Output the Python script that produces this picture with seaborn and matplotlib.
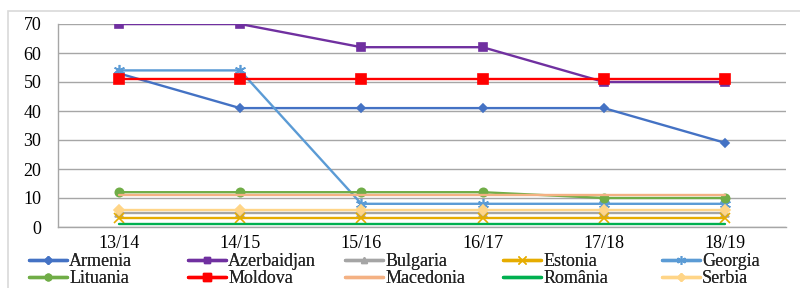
import matplotlib
matplotlib.use("Agg")
import matplotlib.pyplot as plt
import seaborn as sns
import pandas as pd
from matplotlib.patches import Rectangle
from matplotlib.lines import Line2D

categories = ["13/14", "14/15", "15/16", "16/17", "17/18", "18/19"]
armenia = [53, 41, 41, 41, 41, 29]
azerbaidjan = [70, 70, 62, 62, 50, 50]
bulgaria = [5, 5, 5, 5, 5, 5]
estonia = [3, 3, 3, 3, 3, 3]
georgia = [54, 54, 8, 8, 8, 8]
lituania = [12, 12, 12, 12, 10, 10]
moldova = [51, 51, 51, 51, 51, 51]
macedonia = [11, 11, 11, 11, 11, 11]
romania = [1, 1, 1, 1, 1, 1]
serbia = [6, 6, 6, 6, 6, 6]

series_names = ["Armenia", "Azerbaidjan", "Bulgaria", "Estonia", "Georgia",
                "Lituania", "Moldova", "Macedonia", "România", "Serbia"]
series_values = [armenia, azerbaidjan, bulgaria, estonia, georgia,
                 lituania, moldova, macedonia, romania, serbia]

colors = ["#4472C4", "#7030A0", "#A5A5A5", "#E6AC00", "#5B9BD5",
          "#70AD47", "#FF0000", "#F4B183", "#00B050", "#FFD587"]
markers = ["D", "s", "^", "x", (6, 2, 0), "o", "s", None, None, "D"]
msizes = [4.5, 6, 6, 7, 8, 6, 7, 0, 0, 5]

sns.set_style("white")
plt.rcParams["font.family"] = ["Liberation Serif", "DejaVu Serif"]

fig = plt.figure(figsize=(8, 2.88), dpi=100)
ax = fig.add_axes([58/800, 1-227/288, (786-58)/800, (227-24)/288])

for name, vals, c, m, ms in zip(series_names, series_values, colors, markers, msizes):
    df = pd.DataFrame({"x": range(len(categories)), "y": vals})
    kw = dict(color=c, linewidth=1.7, ax=ax, legend=False)
    if m is not None:
        kw.update(marker=m, markersize=ms, markeredgecolor=c, markerfacecolor=c,
                  markeredgewidth=1.2)
    sns.lineplot(data=df, x="x", y="y", **kw)

ax.set_xlim(-0.5, 5.5)
ax.set_ylim(0, 70)
ax.set_yticks(range(0, 71, 10))
ax.set_xticks(range(len(categories)))
ax.set_xticklabels(categories)
ax.set_xticks([i - 0.5 for i in range(len(categories) + 1)], minor=True)
ax.tick_params(axis="x", which="major", length=0, labelsize=13, pad=6, labelcolor="#000000")
ax.tick_params(axis="x", which="minor", length=5, color="#A6A6A6", width=1, direction="out")
ax.tick_params(axis="y", which="major", length=11, color="#A6A6A6", width=1,
               labelsize=13, pad=1, labelcolor="#000000", direction="out")
ax.set_xlabel("")
ax.set_ylabel("")
ax.grid(axis="y", color="#A6A6A6", linewidth=1)
ax.set_axisbelow(True)
for s in ["top", "right"]:
    ax.spines[s].set_visible(False)
for s in ["left", "bottom"]:
    ax.spines[s].set_color("#A6A6A6")
    ax.spines[s].set_linewidth(1)

# legend: five fixed-width columns, two rows
handles = []
for name, c, m, ms in zip(series_names, colors, markers, msizes):
    if m is None:
        h = Line2D([], [], color=c, linewidth=2.4, label=name)
    else:
        h = Line2D([], [], color=c, linewidth=2.4, marker=m, markersize=ms * 0.8,
                   markerfacecolor=c, markeredgecolor=c, label=name)
    handles.append(h)
col_x = [29, 188, 345, 503, 662]
for j, x0 in enumerate(col_x):
    leg = fig.legend(handles=[handles[j], handles[j + 5]], loc="center left",
                     bbox_to_anchor=(x0/800, 1 - 270/288), ncol=1, frameon=False,
                     fontsize=13, handlelength=2.1, handletextpad=0.12,
                     labelspacing=0.0, borderpad=0.0, borderaxespad=0.0)
    fig.add_artist(leg)

# chart border
fig.patches.append(Rectangle((8/800, -0.1), 1.0, 1 - 11/288 + 0.1,
                             transform=fig.transFigure, fill=False,
                             edgecolor="#D9D9D9", linewidth=1.2))

fig.savefig("out.png", dpi=100)
